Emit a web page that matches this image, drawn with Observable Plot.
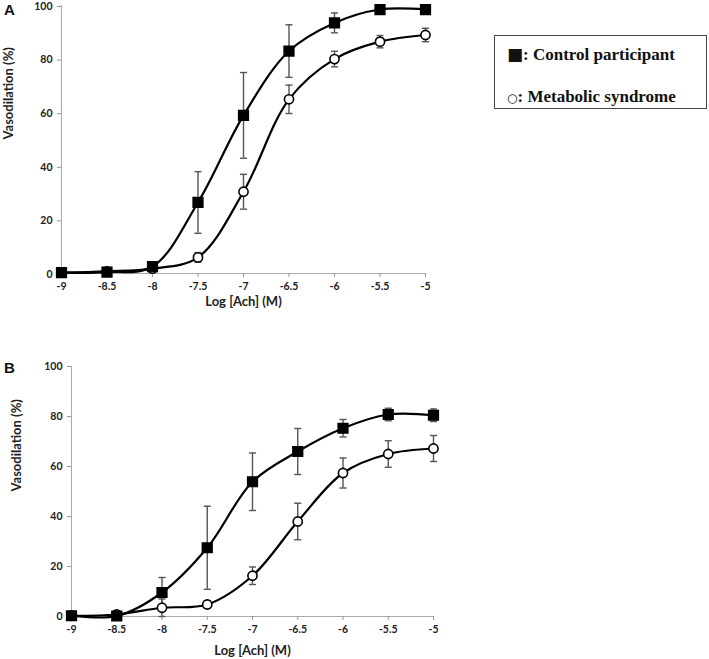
<!DOCTYPE html>
<html><head><meta charset="utf-8">
<script src="https://cdn.jsdelivr.net/npm/d3@7"></script>
<script src="https://cdn.jsdelivr.net/npm/@observablehq/plot@0.6"></script>
<style>
body{margin:0;background:#fff;width:709px;height:659px;position:relative;overflow:hidden;font-family:Lato,sans-serif}
#a,#b{position:absolute;left:0}
#a{top:0}
#b{top:320px}
.panel{position:absolute;font:bold 15px "Liberation Sans",Arial,sans-serif;color:#111}
#legend{position:absolute;left:494px;top:35px;width:211px;height:72px;border:1.5px solid #444;font:bold 17px "Liberation Serif","Times New Roman",serif;color:#111}
#legend .row{position:absolute;left:12px;white-space:nowrap}
</style></head><body>
<div id="a"></div><div id="b"></div>
<div class="panel" style="left:4px;top:1px">A</div>
<div class="panel" style="left:4px;top:359px">B</div>
<div id="legend">
  <div class="row" style="top:8px"><span style="font-family:'DejaVu Sans'">■</span>: Control participant</div>
  <div class="row" style="top:51px"><span style="font-family:'DejaVu Sans';font-size:12px">○</span>: Metabolic syndrome</div>
</div>
<script>
// Log [Ach] (M) concentrations
const logAch = [-9, -8.5, -8, -7.5, -7, -6.5, -6, -5.5, -5];
const yTicks = [0, 20, 40, 60, 80, 100];

// Panel A
const ctrlA    = [0.3, 0.5, 2.6, 26.5, 59, 83, 93.5, 98.5, 98.5];
const ctrlAErr = [0, 0, 0.6, 11.5, 16, 9.8, 3.7, 0.8, 0.8];
const metA     = [0.3, 0.8, 1.8, 6, 30.5, 65, 80, 86.5, 89];
const metAErr  = [0, 0, 0, 1.8, 6.5, 5.3, 2.9, 2.3, 2.5];

// Panel B
const ctrlB    = [0.3, 0.2, 9.6, 27.5, 53.9, 66, 75.3, 80.8, 80.5];
const ctrlBErr = [0, 0, 6, 16.6, 11.5, 9.2, 3.5, 2.5, 2.5];
const metB     = [0.3, 0.8, 3.5, 4.8, 16.3, 38, 57.4, 65, 67.2];
const metBErr  = [0, 0, 3.5, 1.5, 3.5, 7.3, 6, 5.3, 5.2];

const xLabel = "Log [Ach] (M)";
const yLabel = "Vasodilation (%)";

const cap = {draw(ctx, size){ const w = Math.sqrt(size) / 2; ctx.moveTo(-w, 0); ctx.lineTo(w, 0); }};

function panel(ctrl, ctrlErr, met, metErr, o) {
  const rows = (vals, errs) => logAch.map((x, i) => ({x, y: vals[i], lo: vals[i] - errs[i], hi: vals[i] + errs[i]}));
  const c = rows(ctrl, ctrlErr), m = rows(met, metErr);
  const errs = [...c, ...m].filter(d => d.hi - d.lo > 0.5);
  const axisStyle = {fill: "#222", fontWeight: "bold", fontSize: 10.5, tickSize: 4, tickPadding: 5, stroke: "#999"};
  return Plot.plot({
    width: 709, height: o.height,
    marginLeft: o.ml, marginRight: o.mr, marginTop: o.mt, marginBottom: o.mb,
    style: {fontFamily: "Lato, sans-serif", background: "#fff", overflow: "visible"},
    x: {domain: [-9, -5]},
    y: {domain: [0, 100]},
    marks: [
      Plot.ruleY([0], {stroke: "#aaa", strokeWidth: 1}),
      Plot.ruleX([-9], {stroke: "#aaa", strokeWidth: 1}),
      Plot.axisX(logAch, {...axisStyle, tickFormat: d => String(d), label: null}),
      Plot.axisY(yTicks, {...axisStyle, tickFormat: d => String(d), label: null, dy: o.ytdy}),
      Plot.text([xLabel], {text: d => d, frameAnchor: "bottom", dy: o.xdy, fontWeight: "bold", fontSize: 13, fill: "#222"}),
      Plot.text([yLabel], {text: d => d, frameAnchor: "left", dx: o.ydx, rotate: -90, fontWeight: "bold", fontSize: 13, fill: "#222"}),
      Plot.line(c, {x: "x", y: "y", curve: "catmull-rom", stroke: "#000", strokeWidth: 2.2}),
      Plot.line(m, {x: "x", y: "y", curve: "catmull-rom", stroke: "#000", strokeWidth: 2.2}),
      Plot.ruleX(errs, {x: "x", y1: "lo", y2: "hi", stroke: "#555", strokeWidth: 1.4}),
      Plot.dot(errs, {x: "x", y: "hi", symbol: cap, r: 4, stroke: "#555", strokeWidth: 1.4}),
      Plot.dot(errs, {x: "x", y: "lo", symbol: cap, r: 4, stroke: "#555", strokeWidth: 1.4}),
      Plot.dot(m, {x: "x", y: "y", r: 4.6, fill: "#fff", stroke: "#000", strokeWidth: 1.6}),
      Plot.dot(c, {x: "x", y: "y", symbol: "square", r: 5.5, fill: "#000", stroke: "#000"})
    ]
  });
}

document.getElementById("a").append(panel(ctrlA, ctrlAErr, metA, metAErr,
  {height: 320, ml: 61, mr: 284, mt: 5, mb: 47, xdy: 32, ydx: -53, ytdy: 1}));
document.getElementById("b").append(panel(ctrlB, ctrlBErr, metB, metBErr,
  {height: 339, ml: 71, mr: 276, mt: 46, mb: 43, xdy: 38, ydx: -55, ytdy: 0}));
</script>
</body></html>
